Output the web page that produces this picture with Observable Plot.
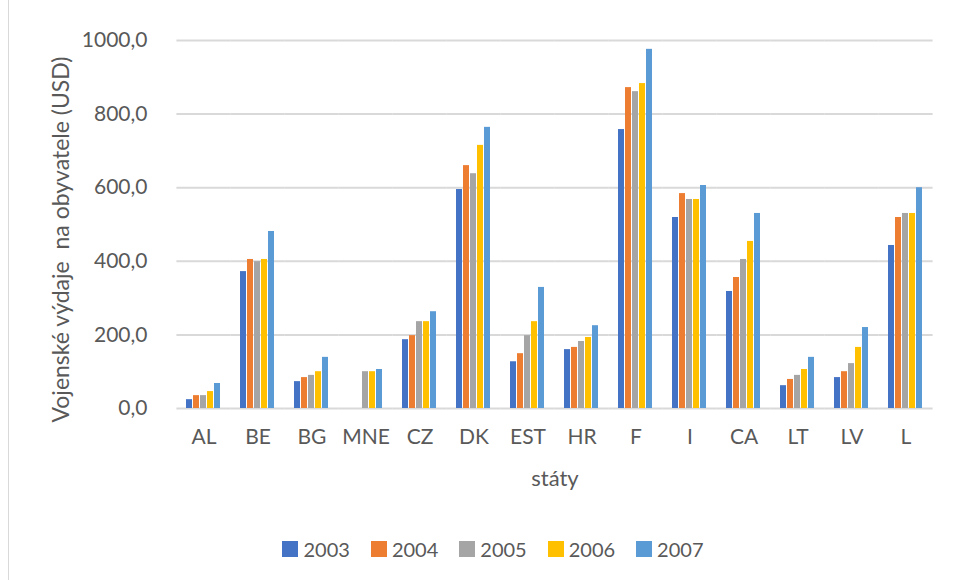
<!DOCTYPE html>
<html><head><meta charset="utf-8">
<script src="https://cdn.jsdelivr.net/npm/d3@7"></script>
<script src="https://cdn.jsdelivr.net/npm/@observablehq/plot@0.6"></script>
<style>
body{margin:0;background:#fff;font-family:Lato,"Open Sans",sans-serif;width:956px;height:580px;position:relative;overflow:hidden;}
#frame{position:absolute;left:8px;top:0;height:580px;border-left:1px solid #d9d9d9;}
#legend{display:flex;justify-content:center;align-items:center;padding-left:30px;margin-top:17px;gap:21px;color:#595959;font-size:20px;}
.item{display:flex;align-items:center;gap:5px;}
.sw{width:16px;height:16px;display:inline-block;}
svg g[aria-label="fx-axis label"] text{font-size:22px;}
</style></head><body>
<div id="frame"></div>
<div id="chart"></div>
<div id="legend"></div>
<script>
const countries = ["AL","BE","BG","MNE","CZ","DK","EST","HR","F","I","CA","LT","LV","L"];
const years = ["2003","2004","2005","2006","2007"];
const v2003 = [24,372,73,null,187,595,127,160,758,519,318,62,84,443];
const v2004 = [35,405,84,null,198,660,149,166,872,584,356,79,100,519];
const v2005 = [35,399,90,100,236,638,198,182,861,568,405,90,122,530];
const v2006 = [46,405,100,100,236,715,236,193,883,568,454,106,166,530];
const v2007 = [68,481,139,106,263,764,329,225,976,606,530,139,220,600];
const yTicks = [0,200,400,600,800,1000];
const colors = ["#4472C4","#ED7D31","#A5A5A5","#FFC000","#5B9BD5"];
const yLabel = "Vojenské výdaje \u00a0na obyvatele (USD)";
const xLabel = "státy";

const series = [v2003,v2004,v2005,v2006,v2007];
const data = [];
countries.forEach((c,i)=>series.forEach((s,j)=>{ if(s[i]!=null) data.push({country:c,year:years[j],value:s[i]}); }));

const plot = Plot.plot({
  width:956, height:520,
  marginLeft:171, marginRight:17, marginTop:40, marginBottom:112,
  style:{fontFamily:"Lato, 'Open Sans', sans-serif", fontSize:"21px", color:"#595959", background:"#fff", overflow:"visible"},
  fx:{domain:countries, paddingInner:0.27, paddingOuter:0.135, label:xLabel, axis:"bottom", tickSize:0, tickPadding:21, labelAnchor:"center", labelOffset:77},
  x:{domain:years, padding:0.1, axis:null},
  y:{domain:[0,1000], ticks:yTicks, tickFormat:d=>d.toFixed(1).replace(".",","), tickSize:0, tickPadding:37, label:null},
  color:{domain:years, range:colors},
  marks:[
    Plot.ruleY(yTicks,{stroke:"#d9d9d9", strokeWidth:2, insetLeft:-7.6, insetRight:-7.6}),
    Plot.barY(data,{fx:"country", x:"year", y:"value", fill:"year"}),
    Plot.text([yLabel],{facet:"super", frameAnchor:"left", textAnchor:"middle", lineAnchor:"middle", text:d=>d, rotate:-90, dx:-123, dy:15, fontSize:23, fill:"#595959"})
  ]
});
document.getElementById("chart").appendChild(plot);

const lg = document.getElementById("legend");
years.forEach((y,i)=>{
  const it = document.createElement("div"); it.className="item";
  const sw = document.createElement("span"); sw.className="sw"; sw.style.background=colors[i];
  const t = document.createElement("span"); t.textContent=y;
  it.appendChild(sw); it.appendChild(t); lg.appendChild(it);
});
</script>
</body></html>
